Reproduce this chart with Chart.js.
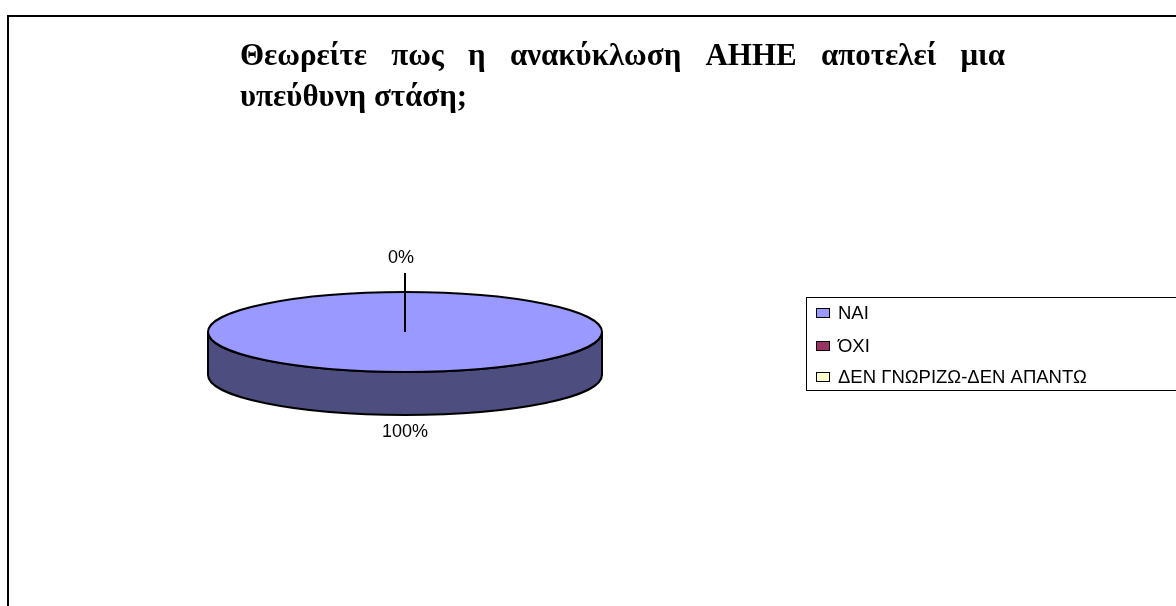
<!DOCTYPE html>
<html>
<head>
<meta charset="utf-8">
<script src="https://cdn.jsdelivr.net/npm/chart.js@4.4.1/dist/chart.umd.min.js"></script>
<style>
  html, body { margin: 0; padding: 0; background: #fff; }
  #wrap { width: 1176px; height: 606px; position: relative; }
</style>
</head>
<body>
<div id="wrap"><canvas id="myChart"></canvas></div>
<script>
// chart data
const answerLabels = ['ΝΑΙ', 'ΌΧΙ', 'ΔΕΝ ΓΝΩΡΙΖΩ-ΔΕΝ ΑΠΑΝΤΩ'];
const answerValues = [100, 0, 0];
const titleLines = ['Θεωρείτε πως η ανακύκλωση ΑΗΗΕ αποτελεί μια', 'υπεύθυνη στάση;'];

const topColors = ['#9999FF', '#993366', '#FFFFCC'];
const sideColors = ['#4D4D80', '#4D1A33', '#80806A'];

const tilt = 0.203;   // vertical squash of the pie
const depth = 43;     // thickness of the pie

// draws the pie flattened with a side wall, excel style
const flatPie = {
  id: 'flatPie',
  beforeDatasetsDraw(chart) {
    const ctx = chart.ctx;
    const meta = chart.getDatasetMeta(0);
    ctx.save();
    ctx.lineWidth = 2;
    ctx.strokeStyle = '#000';
    ctx.lineJoin = 'round';

    // side wall, only the front half can be seen
    meta.data.forEach((arc, i) => {
      const p = arc.getProps(['x', 'y', 'startAngle', 'endAngle', 'outerRadius'], true);
      const a0 = Math.max(p.startAngle, 0);
      const a1 = Math.min(p.endAngle, Math.PI);
      if (a1 <= a0) return;
      const rx = p.outerRadius, ry = rx * tilt;
      ctx.beginPath();
      ctx.ellipse(p.x, p.y, rx, ry, 0, a0, a1);
      ctx.ellipse(p.x, p.y + depth, rx, ry, 0, a1, a0, true);
      ctx.closePath();
      ctx.fillStyle = sideColors[i];
      ctx.fill();
      ctx.stroke();
    });

    // top face
    meta.data.forEach((arc, i) => {
      const p = arc.getProps(['x', 'y', 'startAngle', 'endAngle', 'outerRadius'], true);
      if (p.endAngle - p.startAngle <= 0) return;
      const full = p.endAngle - p.startAngle >= Math.PI * 2 - 1e-6;
      const rx = p.outerRadius, ry = rx * tilt;
      ctx.beginPath();
      if (!full) ctx.moveTo(p.x, p.y);
      ctx.ellipse(p.x, p.y, rx, ry, 0, p.startAngle, p.endAngle);
      ctx.closePath();
      ctx.fillStyle = topColors[i];
      ctx.fill();
      ctx.stroke();
    });
    ctx.restore();
    return false;
  },
  afterDraw(chart) {
    const ctx = chart.ctx;
    const meta = chart.getDatasetMeta(0);
    const values = chart.data.datasets[0].data;
    const total = values.reduce((a, b) => a + b, 0);
    ctx.save();

    // percentage labels
    ctx.font = '18px "Liberation Sans", Arial, sans-serif';
    ctx.fillStyle = '#000';
    ctx.textAlign = 'center';
    ctx.textBaseline = 'middle';
    const seen = new Set();
    meta.data.forEach((arc, i) => {
      const p = arc.getProps(['x', 'y', 'startAngle', 'endAngle', 'outerRadius'], true);
      const rx = p.outerRadius, ry = rx * tilt;
      const mid = (p.startAngle + p.endAngle) / 2;
      const txt = Math.round(values[i] / total * 100) + '%';
      const lift = values[i] === 0 ? 17 : 0;
      const gap = 17 + lift;
      const lx = p.x + Math.cos(mid) * (rx + gap);
      const ly = p.y + Math.sin(mid) * (ry + gap) + (Math.sin(mid) > 0.01 ? depth : 0);
      const key = Math.round(lx) + ',' + Math.round(ly);
      if (seen.has(key)) return;
      seen.add(key);
      if (lift) {
        ctx.beginPath();
        ctx.lineWidth = 2;
        ctx.strokeStyle = '#000';
        ctx.moveTo(p.x, p.y);
        ctx.lineTo(p.x + Math.cos(mid) * (rx + gap - 15), p.y + Math.sin(mid) * (ry + gap - 15));
        ctx.stroke();
        ctx.fillText(txt, lx - 4, ly);
      } else {
        ctx.fillText(txt, lx, ly);
      }
    });

    // outer frame
    ctx.lineWidth = 2;
    ctx.strokeStyle = '#000';
    ctx.strokeRect(8, 16, chart.width + 20, chart.height + 20);

    // title, first line justified
    ctx.font = 'bold 31px "Liberation Serif", "Times New Roman", serif';
    ctx.textAlign = 'left';
    ctx.textBaseline = 'alphabetic';
    const left = 240, right = 1005;
    const words = titleLines[0].split(' ');
    const widths = words.map(w => ctx.measureText(w).width);
    const used = widths.reduce((a, b) => a + b, 0);
    const space = (right - left - used) / (words.length - 1);
    let x = left;
    words.forEach((w, k) => {
      ctx.fillText(w, x, 65);
      x += widths[k] + space;
    });
    ctx.fillText(titleLines[1], left, 106);

    // legend box
    ctx.lineWidth = 1;
    ctx.strokeRect(806.5, 297.5, 420, 93);
    ctx.font = '18.5px "Liberation Sans", Arial, sans-serif';
    ctx.textBaseline = 'middle';
    const rows = [313, 346, 377];
    chart.data.labels.forEach((lab, i) => {
      ctx.fillStyle = topColors[i];
      ctx.fillRect(816.5, rows[i] - 4.5, 13, 9);
      ctx.strokeRect(816.5, rows[i] - 4.5, 13, 9);
      ctx.fillStyle = '#000';
      ctx.fillText(lab, 838, rows[i] + 1);
    });
    ctx.restore();
  }
};

const ctx = document.getElementById('myChart');
new Chart(ctx, {
  type: 'pie',
  data: {
    labels: answerLabels,
    datasets: [{
      data: answerValues,
      backgroundColor: topColors,
      borderWidth: 0
    }]
  },
  options: {
    responsive: true,
    maintainAspectRatio: false,
    animation: false,
    events: [],
    layout: {
      padding: { left: 208, right: 574, top: 135, bottom: 77 }
    },
    plugins: {
      legend: { display: false },
      tooltip: { enabled: false },
      title: { display: false }
    }
  },
  plugins: [flatPie]
});
</script>
</body>
</html>
